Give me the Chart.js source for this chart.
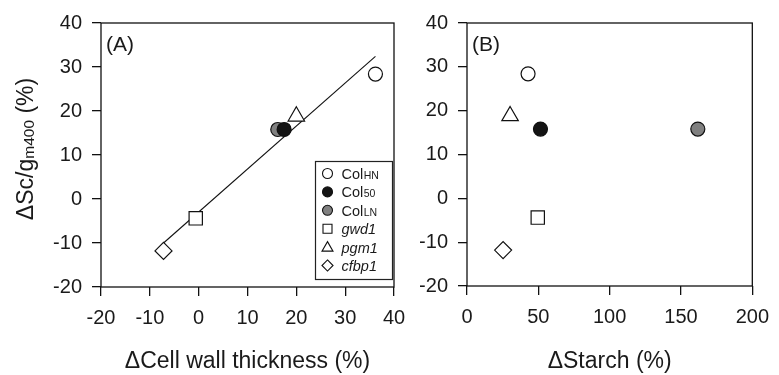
<!DOCTYPE html>
<html><head><meta charset="utf-8">
<script src="https://cdn.jsdelivr.net/npm/chart.js@4/dist/chart.umd.min.js"></script>
<style>
html,body{margin:0;padding:0;background:#fff;}
#wrap{position:relative;width:779px;height:375px;overflow:hidden;}
canvas{position:absolute;top:0;}
#cA{left:0}
#cB{left:420px}
</style></head><body>
<div id="wrap"><canvas id="cA" width="420" height="375"></canvas><canvas id="cB" width="359" height="375"></canvas></div>
<script>
// ---- data ----
const samples = ['ColHN', 'Col50', 'ColLN', 'gwd1', 'pgm1', 'cfbp1'];
const labelMain = ['Col', 'Col', 'Col', 'gwd1', 'pgm1', 'cfbp1'];
const labelSub = ['HN', '50', 'LN', '', '', ''];
const labelItalic = [false, false, false, true, true, true];
const deltaScGm = [28.4, 15.8, 15.8, -4.4, 18.8, -11.8];      // ΔSc/gm400 (%)
const deltaWall = [36.2, 17.5, 16.2, -0.6, 20.0, -7.2];       // ΔCell wall thickness (%)
const deltaStarch = [42.8, 51.5, 161.8, 49.6, 30.2, 25.3];    // ΔStarch (%)
const fitX = [-7.2, 36.2];
const fitY = [-10.0, 32.4];
const xTicksA = [-20, -10, 0, 10, 20, 30, 40];
const xTicksB = [0, 50, 100, 150, 200];
const yTicks = [-20, -10, 0, 10, 20, 30, 40];

// ---- styles ----
const FONT = "'Liberation Sans', Arial, Helvetica, sans-serif";
const TXT = '#1a1a1a';
const pStyle = ['circle', 'circle', 'circle', 'rect', 'triangle', 'rectRot'];
const pFill = ['#ffffff', '#141414', '#808080', '#ffffff', '#ffffff', '#ffffff'];
const pRad = [7, 7, 7, 9.4, 9.5, 8.5];

function makeDatasets(xs) {
  return samples.map((s, i) => ({
    type: 'scatter',
    label: s,
    data: [{x: xs[i], y: deltaScGm[i]}],
    pointStyle: pStyle[i],
    pointRadius: pRad[i],
    pointHoverRadius: pRad[i],
    pointBackgroundColor: pFill[i],
    pointBorderColor: '#111',
    pointBorderWidth: 1.2,
  }));
}

function scaleCommon(ticksArr, fitFn, isX, pad) {
  return {
    type: 'linear',
    min: ticksArr[0], max: ticksArr[ticksArr.length - 1],
    afterBuildTicks: s => { s.ticks = ticksArr.map(v => ({value: v})); },
    afterFit: fitFn,
    border: {display: false},
    grid: {display: true, drawOnChartArea: false, drawTicks: true, tickLength: 9, color: '#111', lineWidth: 1.3},
    ticks: {color: TXT, font: {family: FONT, size: 20}, padding: pad, autoSkip: false, maxRotation: 0},
  };
}

const framePlugin = {
  id: 'frame',
  afterDraw(chart) {
    const {ctx, chartArea: a} = chart;
    ctx.save();
    ctx.strokeStyle = '#111';
    ctx.lineWidth = 1.3;
    ctx.strokeRect(a.left, a.top, a.right - a.left, a.bottom - a.top);
    ctx.fillStyle = TXT;
    ctx.font = '21px ' + FONT;
    ctx.textBaseline = 'middle';
    ctx.textAlign = 'left';
    ctx.fillText(chart.options.plugins.frame.label, a.left + 5, 45);
    ctx.restore();
  }
};

function drawMarker(ctx, style, x, y, r, fill) {
  ctx.beginPath();
  if (style === 'circle') ctx.arc(x, y, r, 0, Math.PI * 2);
  else if (style === 'rect') ctx.rect(x - r, y - r, 2 * r, 2 * r);
  else if (style === 'triangle') {
    ctx.moveTo(x, y - r * 1.1); ctx.lineTo(x + r * 1.1, y + r * 0.8); ctx.lineTo(x - r * 1.1, y + r * 0.8); ctx.closePath();
  } else if (style === 'rectRot') {
    ctx.moveTo(x, y - r * 1.15); ctx.lineTo(x + r * 1.15, y); ctx.lineTo(x, y + r * 1.15); ctx.lineTo(x - r * 1.15, y); ctx.closePath();
  }
  ctx.fillStyle = fill; ctx.fill();
  ctx.strokeStyle = '#111'; ctx.lineWidth = 1.1; ctx.stroke();
}

const legendPlugin = {
  id: 'customLegend',
  afterDraw(chart) {
    const ctx = chart.ctx;
    ctx.save();
    ctx.strokeStyle = '#222'; ctx.lineWidth = 1.2;
    ctx.strokeRect(315.5, 161.5, 77, 118);
    const legR = [5, 5, 5, 4.5, 5, 4.8];
    samples.forEach((s, i) => {
      const y = 173.5 + i * 18.4;
      drawMarker(ctx, pStyle[i], 327.5, y, legR[i], pFill[i]);
      ctx.fillStyle = TXT; ctx.textBaseline = 'alphabetic'; ctx.textAlign = 'left';
      ctx.font = (labelItalic[i] ? 'italic ' : '') + '14.5px ' + FONT;
      ctx.fillText(labelMain[i], 341.5, y + 5.5);
      if (labelSub[i]) {
        const w = ctx.measureText(labelMain[i]).width;
        ctx.font = '10.5px ' + FONT;
        ctx.fillText(labelSub[i], 341.5 + w + 0.5, y + 5.5);
      }
    });
    // y-axis title with subscript
    ctx.translate(33, 149);
    ctx.rotate(-Math.PI / 2);
    const parts = [['ΔSc/g', 23, 0], ['m400', 15.5, 1], [' (%)', 23, 0]];
    let total = 0;
    parts.forEach(p => { ctx.font = p[1] + 'px ' + FONT; total += ctx.measureText(p[0]).width; });
    let x = -total / 2;
    ctx.fillStyle = TXT; ctx.textBaseline = 'alphabetic';
    parts.forEach(p => {
      ctx.font = p[1] + 'px ' + FONT;
      ctx.fillText(p[0], x, p[2]);
      x += ctx.measureText(p[0]).width;
    });
    ctx.restore();
  }
};

const titleFont = {family: FONT, size: 23};

// ---- Panel A ----
const dsA = makeDatasets(deltaWall);
dsA.push({
  type: 'line', label: 'fit',
  data: fitX.map((v, i) => ({x: v, y: fitY[i]})),
  borderColor: '#111', borderWidth: 1.1, pointRadius: 0, fill: false,
});
new Chart(document.getElementById('cA'), {
  data: {datasets: dsA},
  options: {
    responsive: false, animation: false, events: [],
    layout: {padding: {left: 0, right: 26, top: 23, bottom: 0}},
    plugins: {legend: {display: false}, tooltip: {enabled: false}, frame: {label: '(A)'}},
    scales: {
      x: Object.assign(scaleCommon(xTicksA, s => { s.height = 88; }, true, 10), {
        title: {display: true, text: 'ΔCell wall thickness (%)', color: TXT, font: titleFont, padding: {top: 0, bottom: 0}}
      }),
      y: scaleCommon(yTicks, s => { s.width = 101; }, false, 10),
    }
  },
  plugins: [framePlugin, legendPlugin]
});

// ---- Panel B ----
new Chart(document.getElementById('cB'), {
  data: {datasets: makeDatasets(deltaStarch)},
  options: {
    responsive: false, animation: false, events: [],
    layout: {padding: {left: 0, right: 20, top: 23, bottom: 0}},
    plugins: {legend: {display: false}, tooltip: {enabled: false}, frame: {label: '(B)'}},
    scales: {
      x: Object.assign(scaleCommon(xTicksB, s => { s.height = 89; }, true, 10), {
        title: {display: true, text: 'ΔStarch (%)', color: TXT, font: titleFont, padding: {top: 0, bottom: 0}}
      }),
      y: scaleCommon(yTicks, s => { s.width = 47; }, false, 10),
    }
  },
  plugins: [framePlugin]
});
</script>
</body></html>
